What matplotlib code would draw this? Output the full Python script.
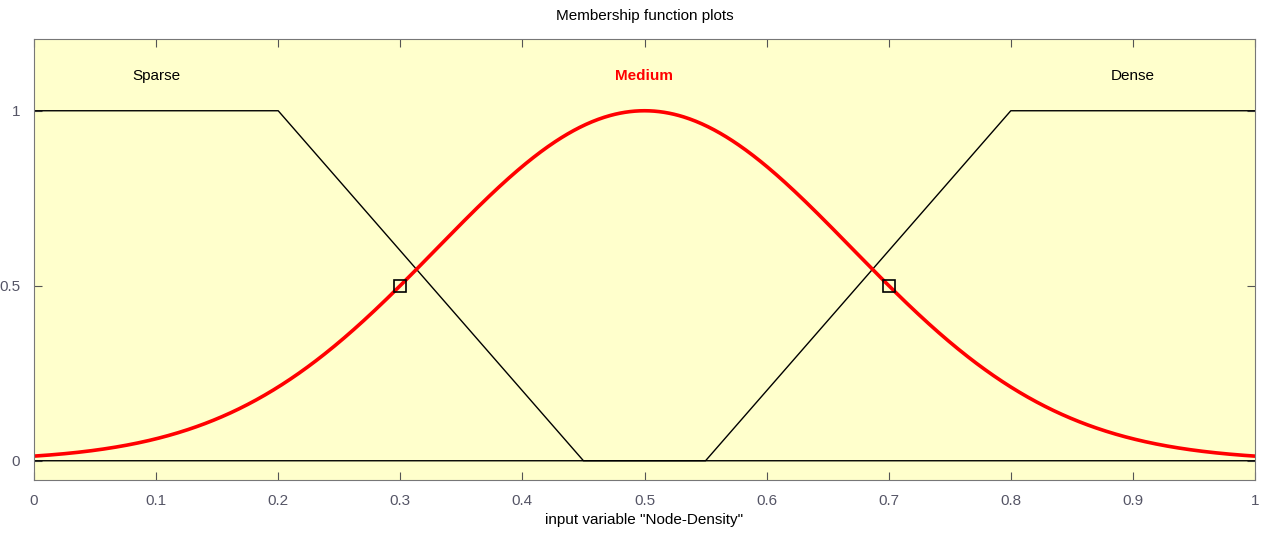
import numpy as np
import matplotlib.pyplot as plt

# membership function parameters for "Node-Density"
mf_names = ["Sparse", "Medium", "Dense"]
sparse_trap = [0.0, 0.0, 0.2, 0.45]
dense_trap = [0.55, 0.8, 1.0, 1.0]
medium_gauss = [0.17, 0.5]          # sigma, center
highlight_x = [0.3, 0.7]
highlight_y = [0.5, 0.5]
x_ticks = [0, 0.1, 0.2, 0.3, 0.4, 0.5, 0.6, 0.7, 0.8, 0.9, 1]
y_ticks = [0, 0.5, 1]


def trapmf(x, p):
    a, b, c, d = p
    up = np.where(b > a, (x - a) / max(b - a, 1e-12), 1.0)
    down = np.where(d > c, (d - x) / max(d - c, 1e-12), 1.0)
    return np.clip(np.minimum(np.minimum(up, down), 1.0), 0, 1)


def gaussmf(x, p):
    s, c = p
    return np.exp(-(x - c) ** 2 / (2 * s ** 2))


plt.rcParams['font.family'] = ['Liberation Sans Narrow', 'Liberation Sans', 'DejaVu Sans']

x = np.linspace(0, 1, 1001)

fig = plt.figure(figsize=(12.62, 5.39), dpi=100)
ax = fig.add_axes([34 / 1262, 1 - 480 / 539, (1255 - 34) / 1262, (480 - 39) / 539])
ax.set_facecolor('#ffffcc')

ax.plot(x, trapmf(x, sparse_trap), color='black', lw=1.0)
ax.plot(x, trapmf(x, dense_trap), color='black', lw=1.0)
ax.plot(x, gaussmf(x, medium_gauss), color='red', lw=2.6)
ax.plot(highlight_x, highlight_y, ls='none', marker='s', ms=9,
        mfc='none', mec='black', mew=1.2)

label_x = [0.1, 0.5, 0.9]
label_c = ['black', 'red', 'black']
for name, lx, c in zip(mf_names, label_x, label_c):
    ax.text(lx, 1.1, name, color=c, ha='center', va='center', fontsize=11,
            fontweight='bold' if c == 'red' else 'normal')

ax.set_xlim(0, 1)
ax.set_ylim(-0.055, 1.205)
ax.set_xticks(x_ticks)
ax.set_xticklabels([f"{t:g}" for t in x_ticks])
ax.set_yticks(y_ticks)
ax.set_yticklabels([f"{t:g}" for t in y_ticks])
ax.tick_params(direction='in', length=6, top=True, right=True,
               color='#555555', labelcolor='#555566', labelsize=11, pad=10)
for sp in ax.spines.values():
    sp.set_color('#777777')

ax.set_xlabel('input variable "Node-Density"', fontsize=11, labelpad=4)
ax.set_title('Membership function plots', fontsize=11, pad=14)

fig.savefig('out.png', dpi=100, facecolor='white')
